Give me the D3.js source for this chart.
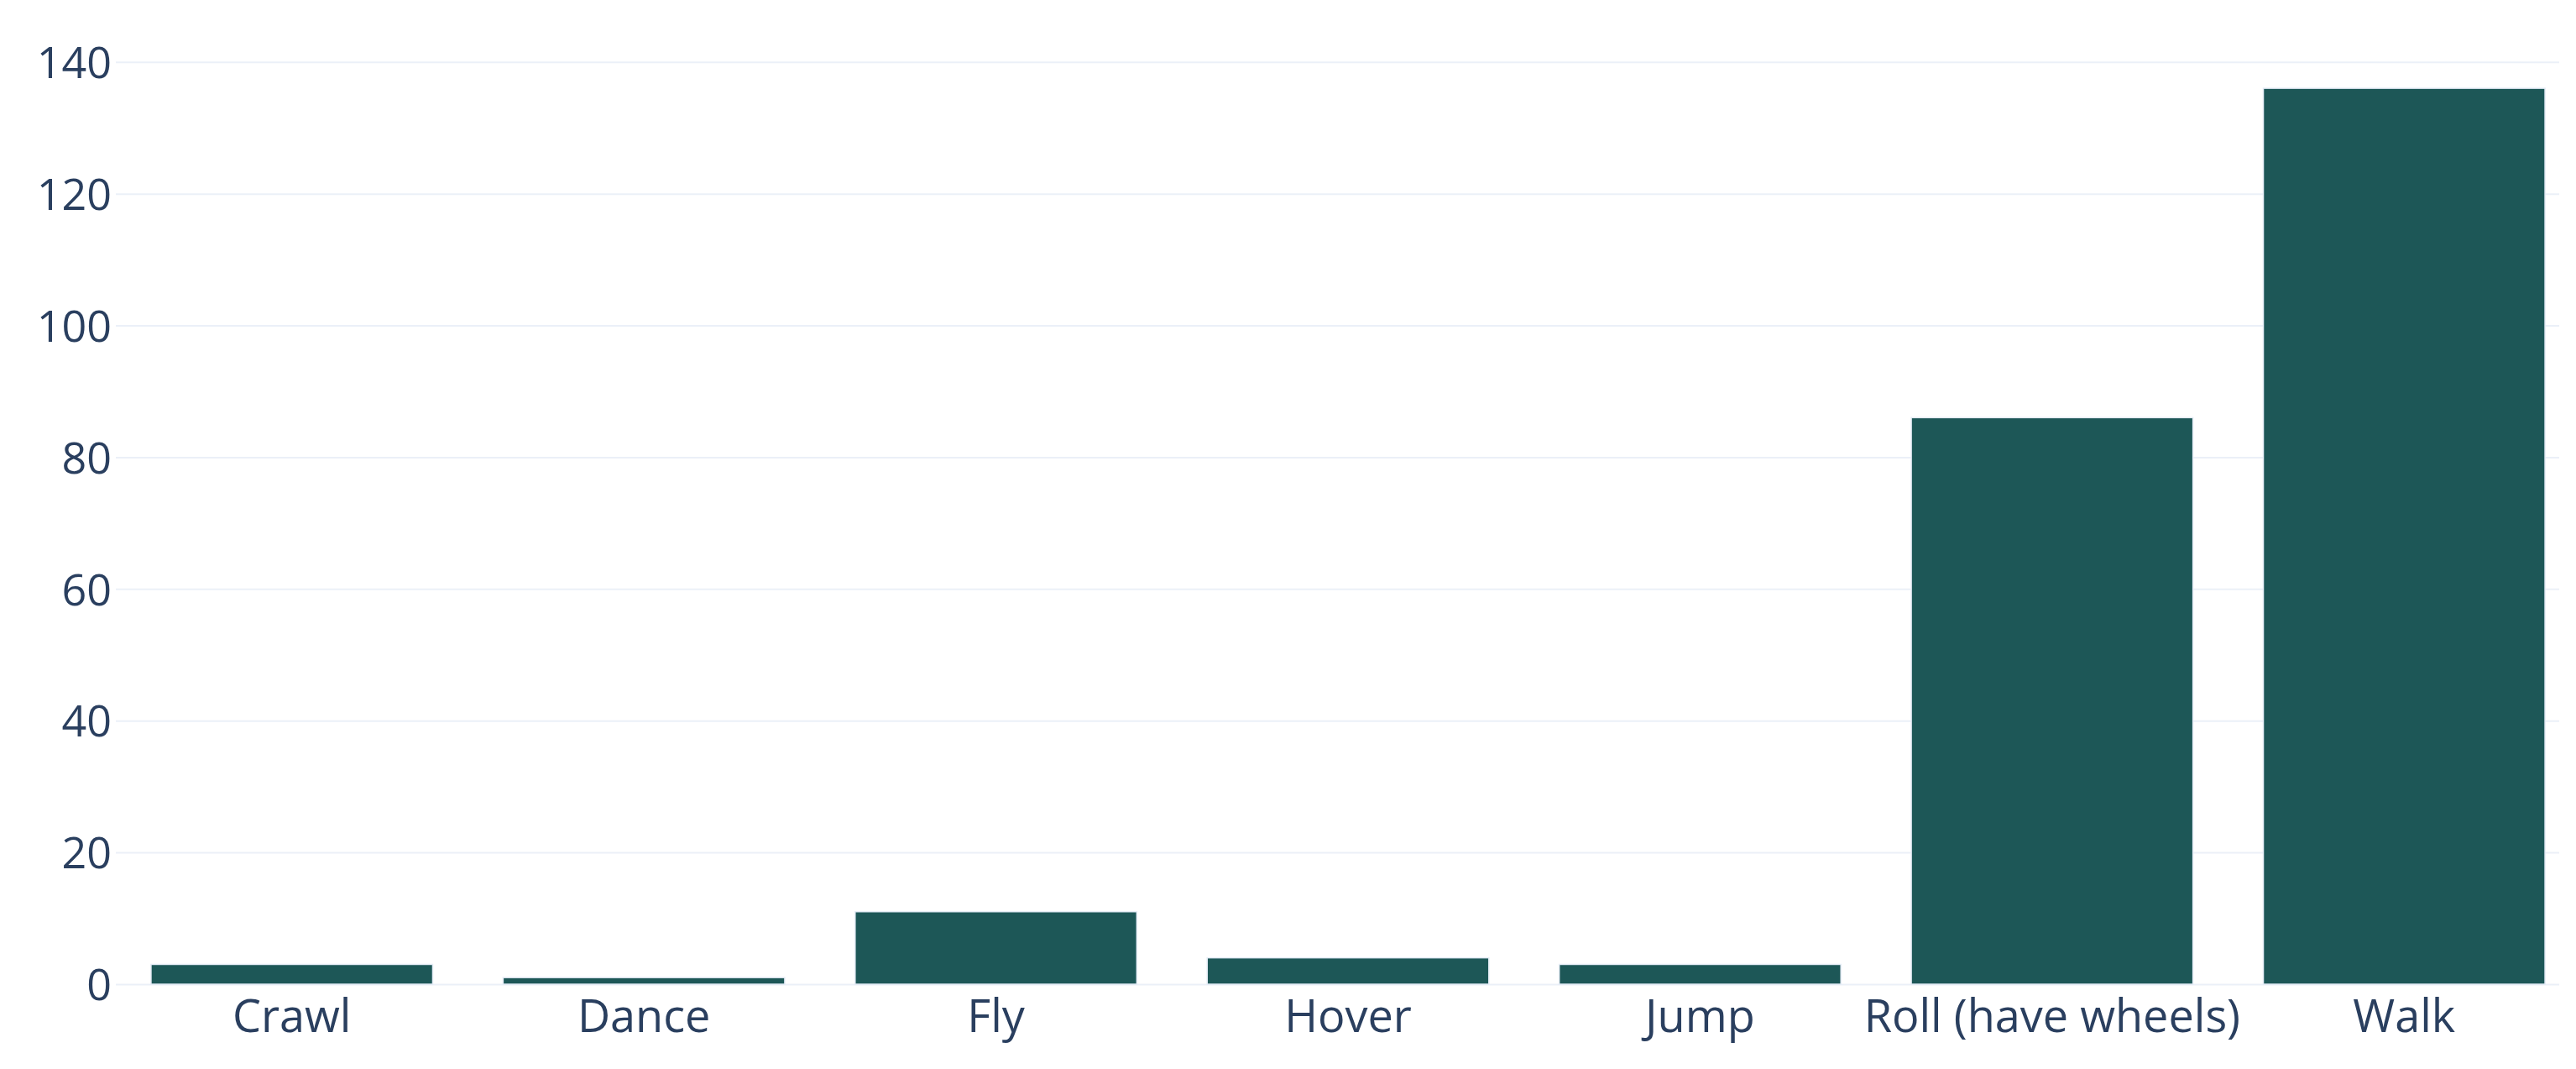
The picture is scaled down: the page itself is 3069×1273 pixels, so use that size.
<!DOCTYPE html>
<html>
<head>
<meta charset="utf-8">
<script src="https://cdn.jsdelivr.net/npm/d3@7"></script>
<style>
  body { margin: 0; background: #fff; }
  svg text { font-family: "Open Sans", sans-serif; fill: #2a3f5f; }
</style>
</head>
<body>
<svg width="3069" height="1273"></svg>
<script>
// data
var categories = ["Crawl", "Dance", "Fly", "Hover", "Jump", "Roll (have wheels)", "Walk"];
var counts = [3, 1, 11, 4, 3, 86, 136];
var yTicks = [0, 20, 40, 60, 80, 100, 120, 140];

var svg = d3.select("svg"),
    width = +svg.attr("width"),
    height = +svg.attr("height");

var margin = {top: 49, right: 20, bottom: 101, left: 138};
var w = width - margin.left - margin.right,
    h = height - margin.top - margin.bottom;

var g = svg.append("g")
    .attr("transform", "translate(" + margin.left + "," + margin.top + ")");

// the bars sit on a slightly wider band than the gridlines in the original
var x = d3.scaleBand()
    .domain(categories)
    .range([0, 2936])
    .paddingInner(0.2)
    .paddingOuter(0.1);

// plotly-style autorange pads the top by ~5%
var y = d3.scaleLinear()
    .domain([0, d3.max(counts) * 1.0526])
    .range([h, 0]);

// gridlines + y labels
var yAxis = g.append("g")
    .attr("class", "y axis")
    .call(d3.axisLeft(y)
      .tickValues(yTicks)
      .tickSize(-w)
      .tickPadding(5));
yAxis.select(".domain").remove();
yAxis.selectAll(".tick line")
    .attr("stroke", "#ebf0f8")
    .attr("stroke-width", 2);
yAxis.selectAll(".tick text")
    .attr("font-size", 52)
    .attr("x", -5)
    .attr("dy", "0.36em");

g.selectAll("rect.bar")
  .data(counts)
  .enter().append("rect")
    .attr("class", "bar")
    .attr("x", function(d, i) { return x(categories[i]); })
    .attr("width", x.bandwidth())
    .attr("y", function(d) { return y(d); })
    .attr("height", function(d) { return h - y(d); })
    .attr("fill", "#1d5757")
    .attr("stroke", "#e5ecf6")
    .attr("stroke-width", 1.5);

var xAxis = g.append("g")
    .attr("transform", "translate(0," + h + ")")
    .call(d3.axisBottom(x).tickSize(0).tickPadding(0));
xAxis.select(".domain").remove();
xAxis.selectAll(".tick text")
    .attr("font-size", 54)
    .attr("y", 57)
    .attr("dy", 0);
</script>
</body>
</html>
